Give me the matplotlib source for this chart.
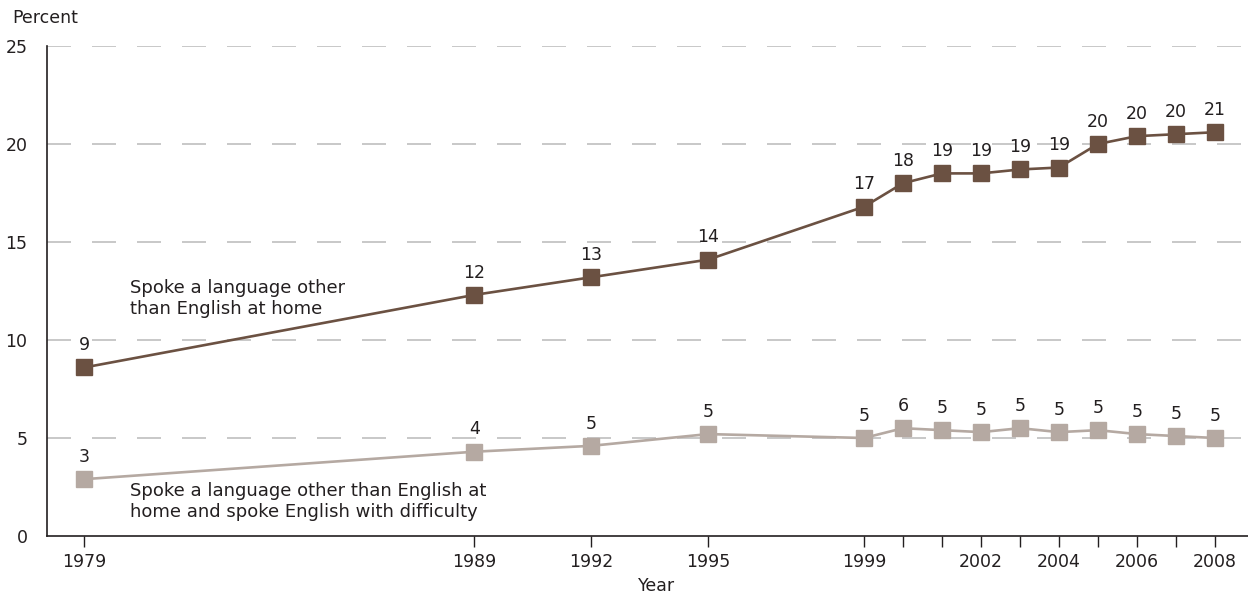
import matplotlib
matplotlib.use('Agg')
import matplotlib.pyplot as plt

# data
years = [1979, 1989, 1992, 1995, 1999, 2000, 2001, 2002, 2003, 2004, 2005, 2006, 2007, 2008]
other_lang = [8.6, 12.3, 13.2, 14.1, 16.8, 18.0, 18.5, 18.5, 18.7, 18.8, 20.0, 20.4, 20.5, 20.6]
other_lang_lbl = ['9', '12', '13', '14', '17', '18', '19', '19', '19', '19', '20', '20', '20', '21']
difficulty = [2.9, 4.3, 4.6, 5.2, 5.0, 5.5, 5.4, 5.3, 5.5, 5.3, 5.4, 5.2, 5.1, 5.0]
difficulty_lbl = ['3', '4', '5', '5', '5', '6', '5', '5', '5', '5', '5', '5', '5', '5']
xtick_labels = {1979: '1979', 1989: '1989', 1992: '1992', 1995: '1995', 1999: '1999',
                2002: '2002', 2004: '2004', 2006: '2006', 2008: '2008'}
yticks = [0, 5, 10, 15, 20, 25]

dark = '#6b5142'
light = '#b5a9a2'
txt = '#231f20'

plt.rcParams['font.family'] = ['DejaVu Sans']

fig = plt.figure(figsize=(12.48, 5.94), dpi=100)
ax = fig.add_axes([47/1248, 1 - 536/594, 1 - 47/1248, 490/594])

# dashed grid
for v in yticks[1:]:
    ax.axhline(v, color='#c4c4c4', lw=1.3, linestyle=(0, (24/1.3*0.72, 21/1.3*0.72)), zorder=0)

ax.plot(years, other_lang, color=dark, lw=1.9, marker='s', ms=11.5, zorder=3)
ax.plot(years, difficulty, color=light, lw=1.9, marker='s', ms=11.5, zorder=3)

fs = 12.5
for x, y, s in zip(years, other_lang, other_lang_lbl):
    ax.annotate(s, (x, y), xytext=(0, 16), textcoords='offset points',
                ha='center', va='center', fontsize=fs, color=txt)
for x, y, s in zip(years, difficulty, difficulty_lbl):
    ax.annotate(s, (x, y), xytext=(0, 16), textcoords='offset points',
                ha='center', va='center', fontsize=fs, color=txt)

ax.text(1980.17, 12.1, 'Spoke a language other\nthan English at home',
        ha='left', va='center', fontsize=13, color=txt, linespacing=1.2)
ax.text(1980.17, 1.75, 'Spoke a language other than English at\nhome and spoke English with difficulty',
        ha='left', va='center', fontsize=13, color=txt, linespacing=1.2)

ax.set_xlim(1978.04, 2008.85)
ax.set_ylim(0, 25)
ax.set_xticks(years)
ax.set_xticklabels([xtick_labels.get(y, '') for y in years])
ax.set_yticks(yticks)
ax.tick_params(axis='x', length=8, width=1, color=txt, labelsize=fs, labelcolor=txt, pad=4)
ax.tick_params(axis='y', length=0, labelsize=fs, labelcolor=txt, pad=14)

for side in ['top', 'right']:
    ax.spines[side].set_visible(False)
for side in ['left', 'bottom']:
    ax.spines[side].set_color(txt)
    ax.spines[side].set_linewidth(1.2)

fig.text(12/1248, 1 - 18/594, 'Percent', ha='left', va='center', fontsize=fs, color=txt)
fig.text(657/1248, 1 - 586/594, 'Year', ha='center', va='center', fontsize=fs, color=txt)

fig.savefig('out.png', dpi=100)
